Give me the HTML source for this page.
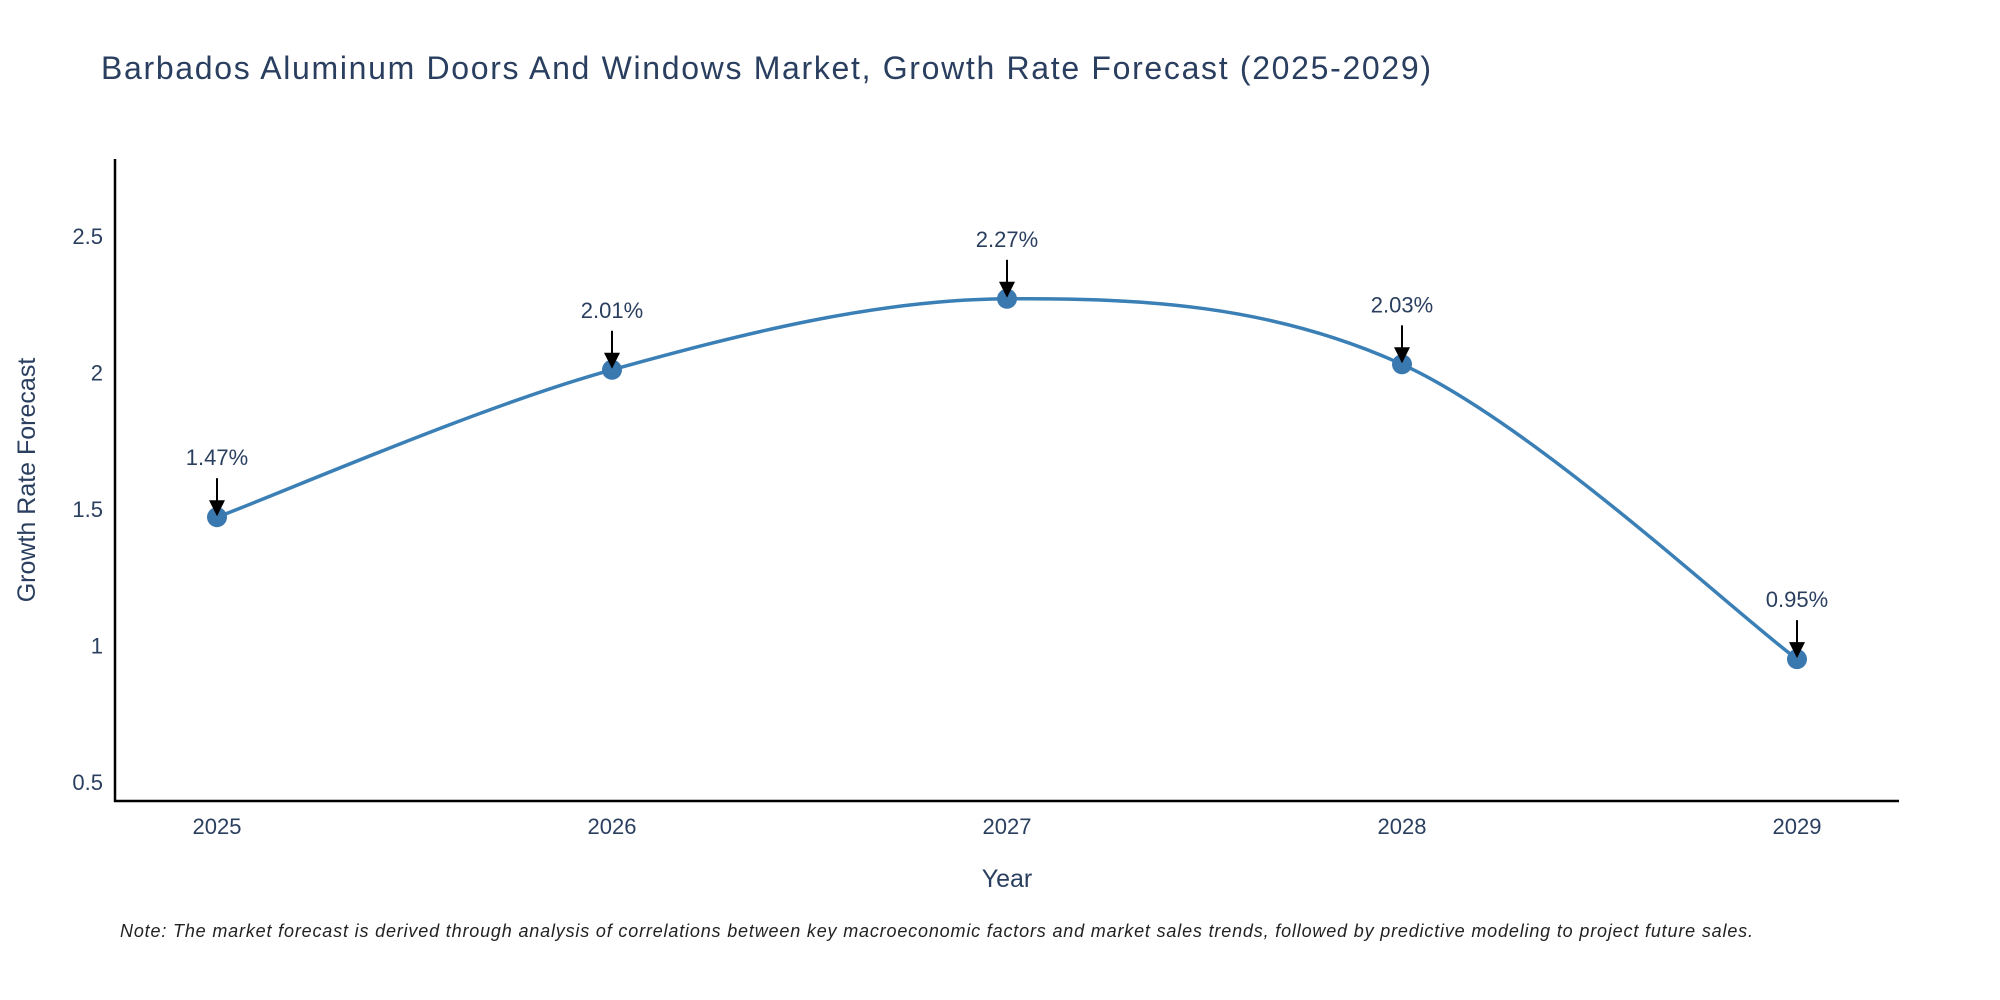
<!DOCTYPE html>
<html><head><meta charset="utf-8"><style>
body{margin:0;background:#fff;}
svg{display:block;font-family:"Liberation Sans",sans-serif;}
</style></head><body>
<svg id="chart" width="2000" height="1000">
<text x="101" y="79" font-size="32" fill="#2a3f5f" textLength="1330">Barbados Aluminum Doors And Windows Market, Growth Rate Forecast (2025-2029)</text>
<g id="yticks"></g>
<g id="xticks"></g>
<line x1="115" y1="159" x2="115" y2="802" stroke="#000" stroke-width="2.5"/>
<line x1="114" y1="801" x2="1899" y2="801" stroke="#000" stroke-width="2.5"/>
<text x="0" y="0" transform="translate(35,480) rotate(-90)" text-anchor="middle" font-size="25" fill="#2a3f5f">Growth Rate Forecast</text>
<text x="1007" y="887" text-anchor="middle" font-size="25" fill="#2a3f5f">Year</text>
<g id="series"></g>
<g id="annots"></g>
<text x="120" y="937" font-size="18" font-style="italic" fill="#222" textLength="1633">Note: The market forecast is derived through analysis of correlations between key macroeconomic factors and market sales trends, followed by predictive modeling to project future sales.</text>
</svg>
<script>
const years = [2025, 2026, 2027, 2028, 2029];
const growth = [1.47, 2.01, 2.27, 2.03, 0.95];
const labels = ["1.47%", "2.01%", "2.27%", "2.03%", "0.95%"];
const yTicks = [0.5, 1, 1.5, 2, 2.5];
const yTickLabels = ["0.5", "1", "1.5", "2", "2.5"];

const NS = "http://www.w3.org/2000/svg";
function xS(v){ return 217 + (v - 2025) * 395; }
function yS(v){ return 372.5 - (v - 2) * 273; }
function mk(tag, attrs, parent){ const e = document.createElementNS(NS, tag); for (const k in attrs) e.setAttribute(k, attrs[k]); parent.appendChild(e); return e; }

const yg = document.getElementById('yticks');
yTicks.forEach((t, i) => {
  const e = mk('text', {x: 103, y: yS(t) + 8, 'text-anchor': 'end', 'font-size': 22, fill: '#2a3f5f'}, yg);
  e.textContent = yTickLabels[i];
  
  
});
const xg = document.getElementById('xticks');
years.forEach(y => {
  const e = mk('text', {x: xS(y), y: 834, 'text-anchor': 'middle', 'font-size': 22, fill: '#2a3f5f'}, xg);
  e.textContent = y;
  
  
});

const pts = years.map((y, i) => [xS(y), yS(growth[i])]);
let d = `M${pts[0][0]},${pts[0][1]}`;
for (let i = 0; i < pts.length - 1; i++) {
  const p0 = pts[Math.max(0, i - 1)], p1 = pts[i], p2 = pts[i + 1], p3 = pts[Math.min(pts.length - 1, i + 2)];
  const c1 = [p1[0] + (p2[0] - p0[0]) / 6, p1[1] + (p2[1] - p0[1]) / 6];
  const c2 = [p2[0] - (p3[0] - p1[0]) / 6, p2[1] - (p3[1] - p1[1]) / 6];
  d += ` C${c1[0]},${c1[1]} ${c2[0]},${c2[1]} ${p2[0]},${p2[1]}`;
}
const sg = document.getElementById('series');
const line = mk('path', {d: d, fill: 'none', stroke: '#3a7fb5', 'stroke-width': 3.5}, sg);


pts.forEach(p => {
  const c = mk('circle', {cx: p[0], cy: p[1], r: 10, fill: '#3a78b0'}, sg);
  
  
});

const ag = document.getElementById('annots');
pts.forEach((p, i) => {
  const t = mk('text', {x: p[0], y: p[1] - 52, 'text-anchor': 'middle', 'font-size': 22, fill: '#2a3f5f'}, ag);
  t.textContent = labels[i];
  
  
  const l = mk('line', {x1: p[0], y1: p[1] - 39, x2: p[0], y2: p[1] - 14, stroke: '#000', 'stroke-width': 2}, ag);
  
  
  const h = mk('polygon', {points: `${p[0]-8},${p[1]-17} ${p[0]+8},${p[1]-17} ${p[0]},${p[1]-1}`, fill: '#000'}, ag);
  
  
});
</script>
</body></html>
